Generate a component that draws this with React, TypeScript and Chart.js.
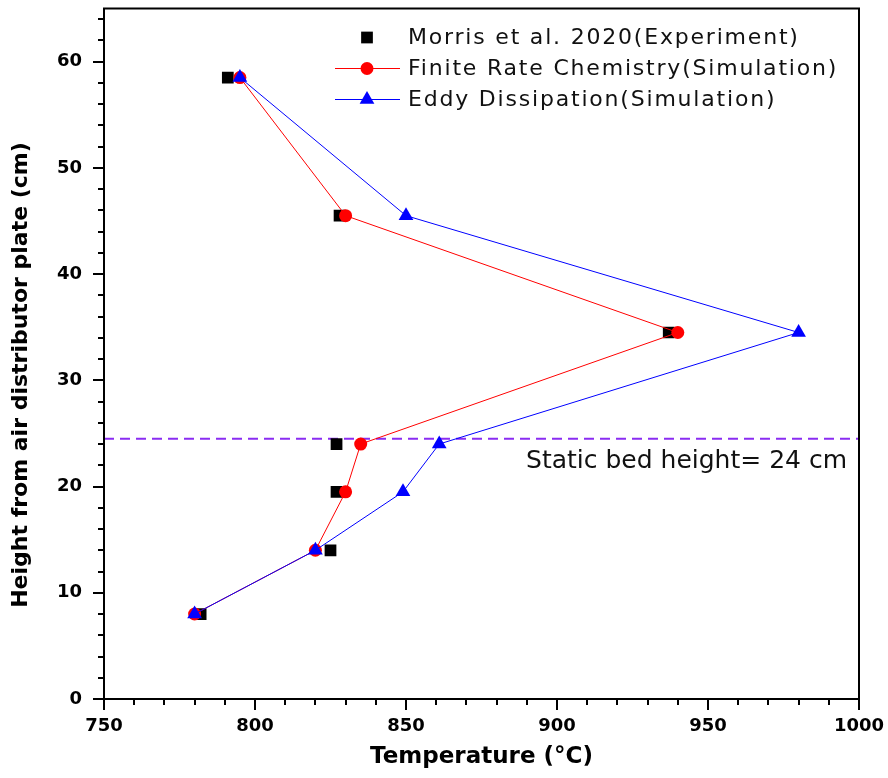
import React, { useEffect, useRef } from 'react';
import { Chart, registerables } from 'chart.js';

Chart.register(...registerables);

// ---- data ----
const heights = [58.5, 45.5, 34.5, 24, 19.5, 14, 8];
const experimentTemps = [791, 828, 937, 827, 827, 825, 782];
const finiteRateTemps = [795, 830, 940, 835, 830, 820, 780];
const eddyTemps = [795, 850, 980, 861, 849, 820, 780];
const seriesLabels = [
  'Morris et al. 2020(Experiment)',
  'Finite Rate Chemistry(Simulation)',
  'Eddy Dissipation(Simulation)',
];
const staticBedHeight = 24.5;
const staticBedLabel = 'Static bed height= 24 cm';
const xTitle = 'Temperature (°C)';
const yTitle = 'Height from air distributor plate (cm)';
const xRange = [750, 1000];
const yRange = [0, 65];
const xMajorStep = 50;
const xMinorStep = 10;
const yMajorStep = 10;
const yMinorStep = 2;

const FONT = "'DejaVu Sans', sans-serif";

const toPoints = (xs: number[]) => xs.map((x, i) => ({ x, y: heights[i] }));

function drawMarker(ctx: CanvasRenderingContext2D, style: string, x: number, y: number, r: number, color: string) {
  ctx.save();
  ctx.fillStyle = color;
  ctx.beginPath();
  if (style === 'rect') {
    const s = r * Math.SQRT1_2;
    ctx.rect(x - s, y - s, 2 * s, 2 * s);
  } else if (style === 'circle') {
    ctx.arc(x, y, r, 0, Math.PI * 2);
  } else if (style === 'triangle') {
    ctx.moveTo(x, y - r);
    ctx.lineTo(x + r * Math.sin((2 * Math.PI) / 3), y - r * Math.cos((2 * Math.PI) / 3));
    ctx.lineTo(x + r * Math.sin((4 * Math.PI) / 3), y - r * Math.cos((4 * Math.PI) / 3));
    ctx.closePath();
  }
  ctx.fill();
  ctx.restore();
}

const zeroPadding = (s: any) => {
  s.paddingTop = 0;
  s.paddingBottom = 0;
  s.paddingLeft = 0;
  s.paddingRight = 0;
};

const decorPlugin = {
  id: 'decor',
  beforeDatasetsDraw(chart: any) {
    const { ctx, chartArea: a, scales } = chart;
    const py = scales.y.getPixelForValue(staticBedHeight);
    ctx.save();
    ctx.strokeStyle = '#8a2cf2';
    ctx.lineWidth = 2;
    ctx.setLineDash([10, 6]);
    ctx.beginPath();
    ctx.moveTo(a.left, py);
    ctx.lineTo(a.right, py);
    ctx.stroke();
    ctx.restore();
  },
  afterDraw(chart: any) {
    const { ctx, chartArea: a, scales } = chart;
    const xs = scales.x;
    const ys = scales.y;
    ctx.save();
    // frame
    ctx.strokeStyle = '#000';
    ctx.lineWidth = 2;
    ctx.strokeRect(a.left, a.top, a.right - a.left, a.bottom - a.top);
    // ticks
    ctx.lineWidth = 2;
    ctx.beginPath();
    xs.ticks.forEach((t: any) => {
      const v = t.value;
      if (v % xMinorStep !== 0) return;
      const px = Math.round(xs.getPixelForValue(v));
      const len = v % xMajorStep === 0 ? 11 : 6;
      ctx.moveTo(px, a.bottom);
      ctx.lineTo(px, a.bottom + len);
    });
    ys.ticks.forEach((t: any) => {
      const v = t.value;
      if (v % yMinorStep !== 0) return;
      const py = Math.round(ys.getPixelForValue(v));
      const len = v % yMajorStep === 0 ? 11 : 6;
      ctx.moveTo(a.left, py);
      ctx.lineTo(a.left - len, py);
    });
    ctx.stroke();

    // y title
    ctx.save();
    ctx.translate(21.5, 375);
    ctx.rotate(-Math.PI / 2);
    ctx.font = `bold 22px ${FONT}`;
    ctx.fillStyle = '#000';
    ctx.textAlign = 'center';
    ctx.textBaseline = 'middle';
    ctx.fillText(yTitle, 0, 0);
    ctx.restore();

    // static bed label
    const py = ys.getPixelForValue(staticBedHeight);
    ctx.font = `25px ${FONT}`;
    ctx.fillStyle = '#111';
    ctx.textAlign = 'right';
    ctx.textBaseline = 'alphabetic';
    ctx.fillText(staticBedLabel, a.right - 12, py + 29);

    // legend
    const lx = a.left + 263;
    const ly0 = a.top + 29;
    chart.data.datasets.forEach((ds: any, i: number) => {
      const cy = ly0 + i * 31;
      if (ds.showLine) {
        ctx.save();
        ctx.strokeStyle = ds.borderColor;
        ctx.lineWidth = 1;
        ctx.beginPath();
        ctx.moveTo(lx - 32, cy);
        ctx.lineTo(lx + 33, cy);
        ctx.stroke();
        ctx.restore();
      }
      drawMarker(ctx, ds.pointStyle, lx, cy, ds.pointRadius, ds.backgroundColor);
      ctx.save();
      ctx.font = `22px ${FONT}`;
      (ctx as any).letterSpacing = '1.8px';
      ctx.fillStyle = '#111';
      ctx.textAlign = 'left';
      ctx.textBaseline = 'middle';
      ctx.fillText(ds.label, lx + 41, cy + 1);
      ctx.restore();
    });
    ctx.restore();
  },
};

export default function App() {
  const canvasRef = useRef<HTMLCanvasElement | null>(null);

  useEffect(() => {
    if (!canvasRef.current) return;
    const chart = new Chart(canvasRef.current, {
      type: 'scatter',
      data: {
        datasets: [
          {
            label: seriesLabels[0],
            data: toPoints(experimentTemps),
            showLine: false,
            pointStyle: 'rect',
            pointRadius: 8.3,
            pointBorderWidth: 0,
            backgroundColor: '#000000',
            borderColor: '#000000',
            order: 3,
          },
          {
            label: seriesLabels[1],
            data: toPoints(finiteRateTemps),
            showLine: true,
            pointStyle: 'circle',
            pointRadius: 6.5,
            pointBorderWidth: 0,
            borderWidth: 1,
            backgroundColor: '#ff0000',
            borderColor: '#ff0000',
            order: 2,
          },
          {
            label: seriesLabels[2],
            data: toPoints(eddyTemps),
            showLine: true,
            pointStyle: 'triangle',
            pointRadius: 8.5,
            pointBorderWidth: 0,
            borderWidth: 1,
            backgroundColor: '#0000ff',
            borderColor: '#0000ff',
            order: 1,
          },
        ] as any,
      },
      options: {
        responsive: false,
        animation: false,
        layout: { padding: { left: 0, top: 8, right: 29, bottom: 0 } },
        plugins: {
          legend: { display: false },
          tooltip: { enabled: false },
        },
        scales: {
          x: {
            type: 'linear',
            min: xRange[0],
            max: xRange[1],
            grid: { display: false, drawTicks: false },
            border: { display: false },
            ticks: {
              stepSize: xMinorStep,
              autoSkip: false,
              maxRotation: 0,
              padding: 17,
              color: '#000',
              font: { family: FONT, size: 18, weight: 'bold' },
              callback: (v: any) => (Number(v) % xMajorStep === 0 ? String(v) : ''),
            },
            title: {
              display: true,
              text: xTitle,
              color: '#000',
              font: { family: FONT, size: 23, weight: 'bold' },
              padding: { top: 0, bottom: 7 },
            },
            afterFit: (s: any) => {
              s.height = 79;
              zeroPadding(s);
            },
          },
          y: {
            type: 'linear',
            min: yRange[0],
            max: yRange[1],
            grid: { display: false, drawTicks: false },
            border: { display: false },
            ticks: {
              stepSize: yMinorStep,
              autoSkip: false,
              includeBounds: false,
              padding: 22,
              color: '#000',
              font: { family: FONT, size: 18, weight: 'bold' },
              callback: (v: any) => (Number(v) % yMajorStep === 0 ? String(v) : ''),
            },
            afterFit: (s: any) => {
              s.width = 104;
              zeroPadding(s);
            },
          },
        },
      } as any,
      plugins: [decorPlugin],
    });
    return () => chart.destroy();
  }, []);

  return (
    <div style={{ position: 'absolute', left: 0, top: 0, width: 888, height: 778, background: '#fff' }}>
      <canvas ref={canvasRef} width={888} height={778} />
    </div>
  );
}
